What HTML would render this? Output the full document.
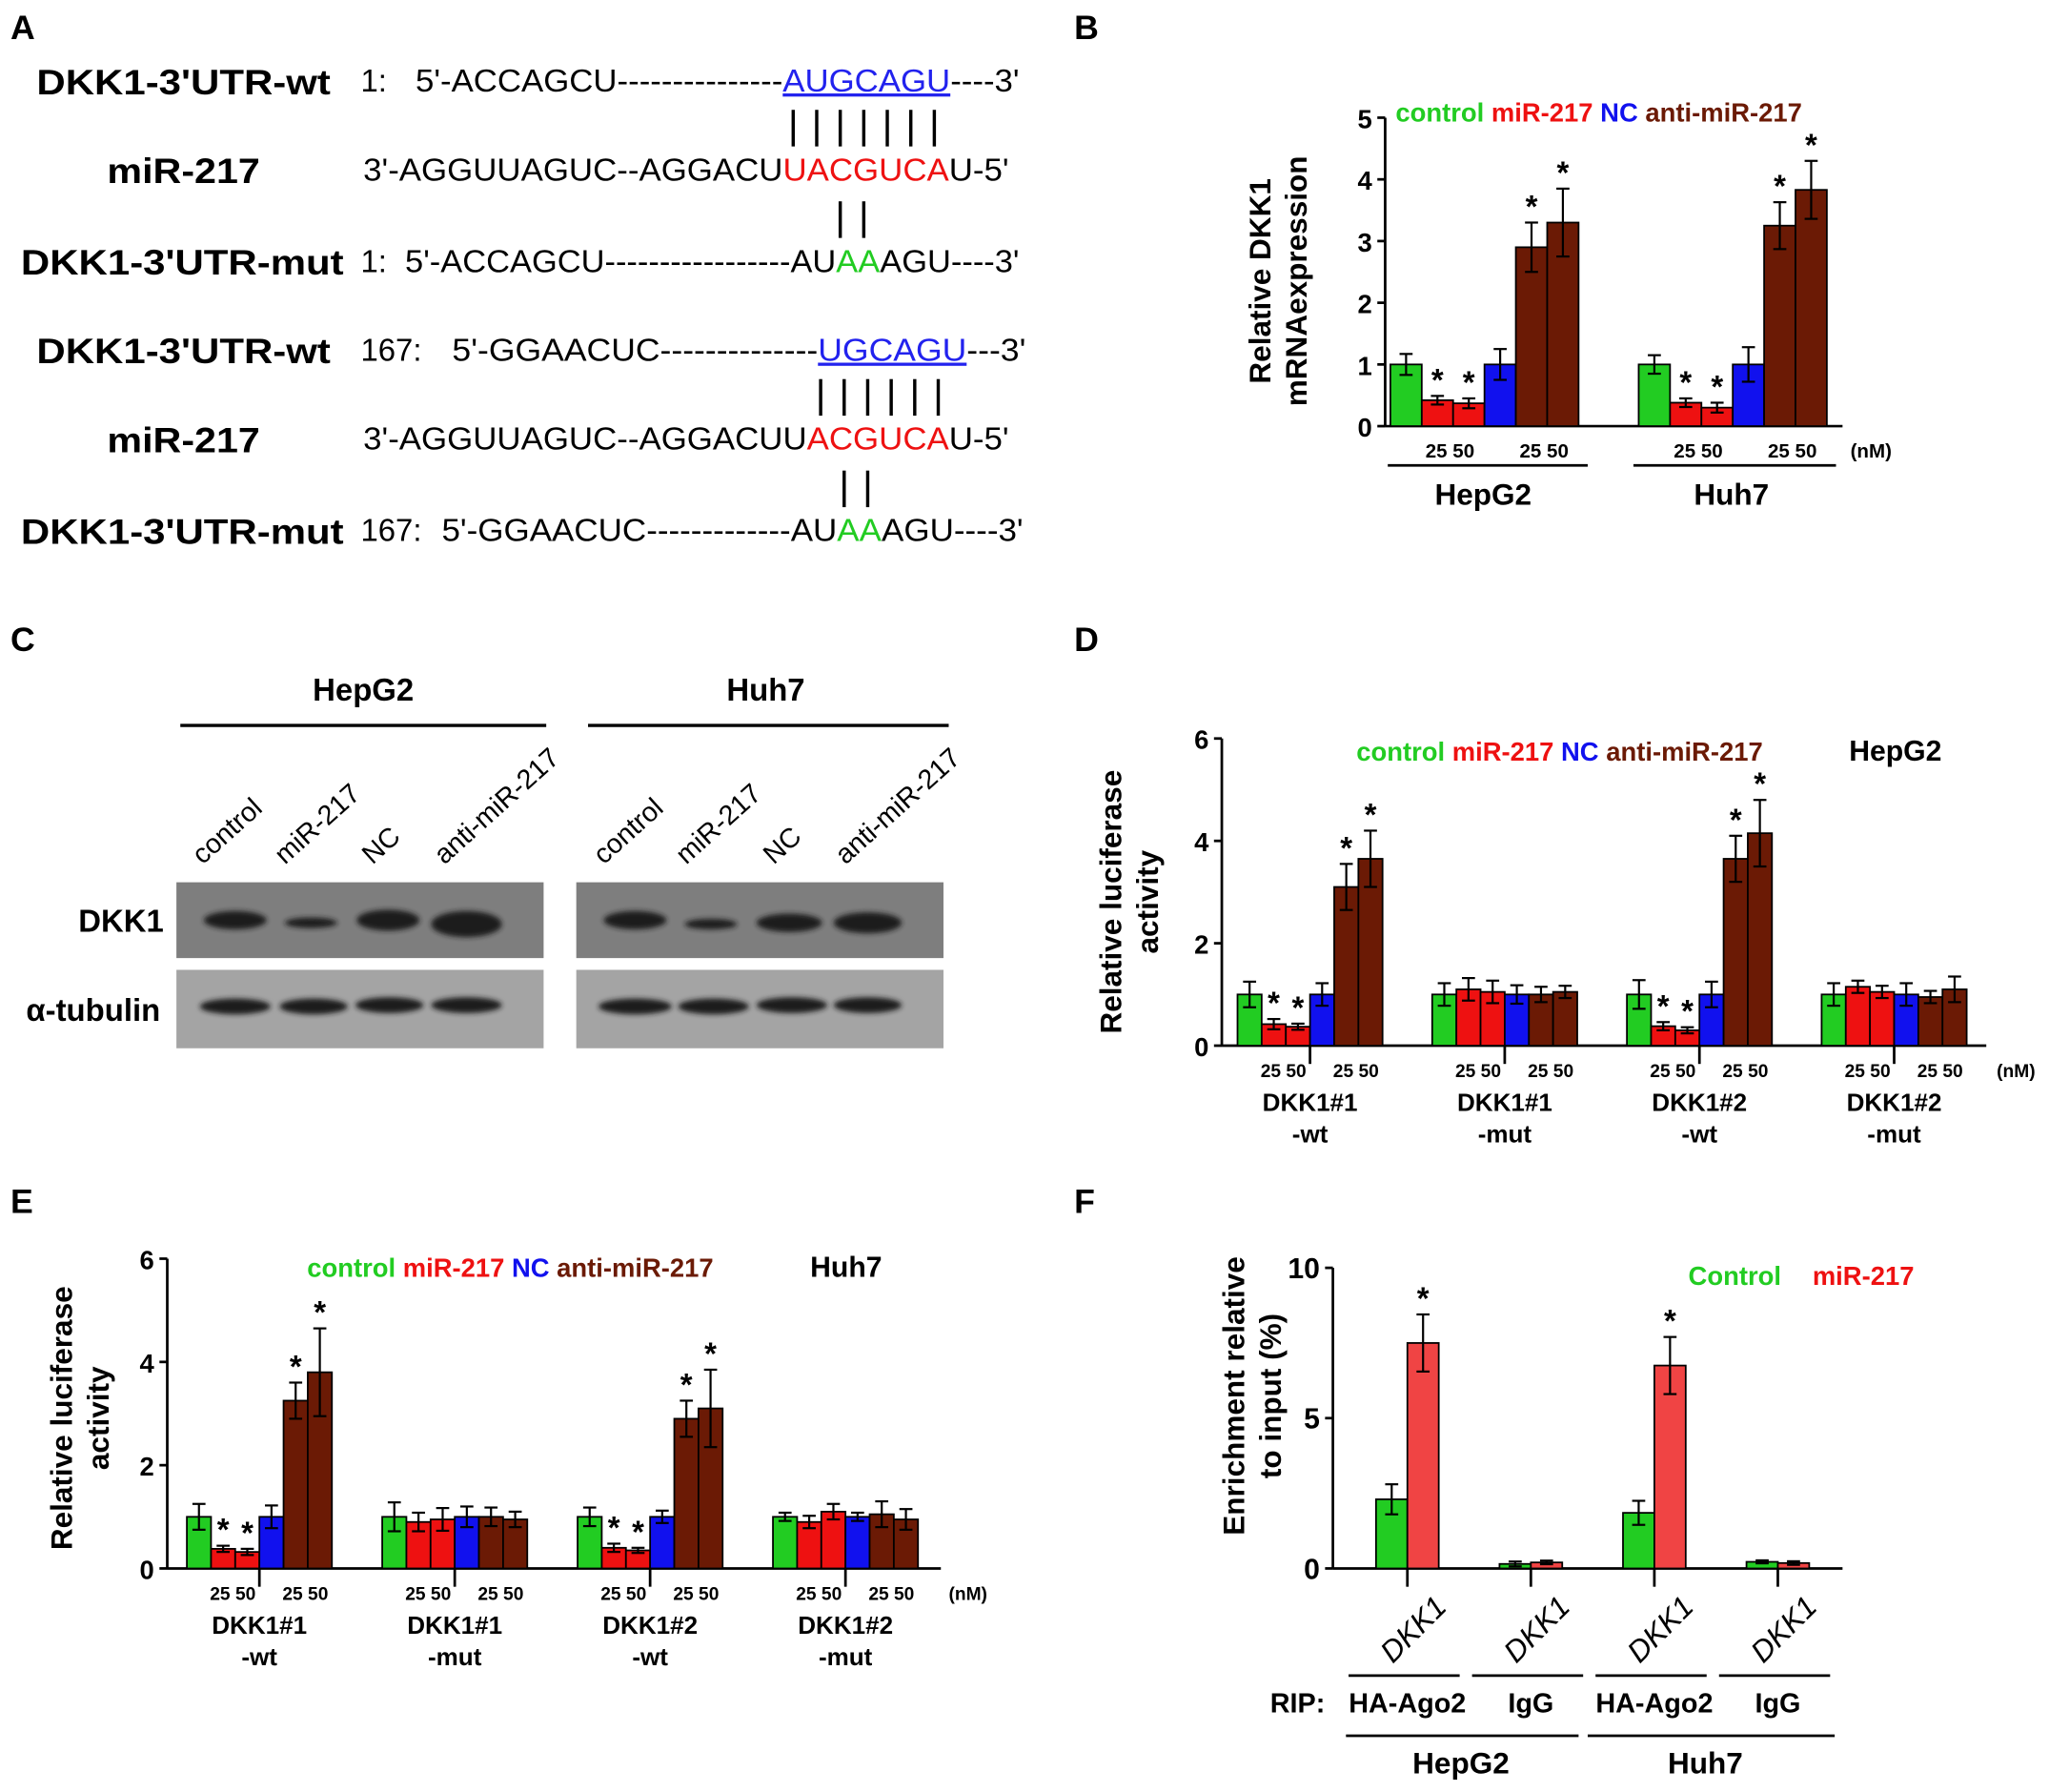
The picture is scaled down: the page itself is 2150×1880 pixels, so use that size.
<!DOCTYPE html>
<html><head><meta charset="utf-8"><style>
html,body{margin:0;padding:0;background:#fff;}
svg{display:block;font-family:"Liberation Sans",Arial,sans-serif;}
</style></head><body>
<svg id="fig" width="2150" height="1880" viewBox="0 0 1568 1371" xmlns="http://www.w3.org/2000/svg">
<g font-weight="bold" font-size="26">
<text x="8" y="30">A</text><text x="822" y="30">B</text><text x="8" y="498">C</text><text x="822" y="498">D</text><text x="8" y="928">E</text><text x="822" y="928">F</text>
</g>
<!-- Panel A -->
<g id="panelA" font-size="24">
<g font-weight="bold" font-size="27">
<text x="28" y="72" textLength="225" lengthAdjust="spacingAndGlyphs">DKK1-3'UTR-wt</text>
<text x="82" y="140" textLength="117" lengthAdjust="spacingAndGlyphs">miR-217</text>
<text x="16" y="210" textLength="247" lengthAdjust="spacingAndGlyphs">DKK1-3'UTR-mut</text>
<text x="28" y="278" textLength="225" lengthAdjust="spacingAndGlyphs">DKK1-3'UTR-wt</text>
<text x="82" y="346" textLength="117" lengthAdjust="spacingAndGlyphs">miR-217</text>
<text x="16" y="416" textLength="247" lengthAdjust="spacingAndGlyphs">DKK1-3'UTR-mut</text>
</g>
<text x="276" y="70">1:</text>
<text x="318" y="70" textLength="462" lengthAdjust="spacingAndGlyphs">5'-ACCAGCU---------------<tspan fill="#2222ee" text-decoration="underline">AUGCAGU</tspan>----3'</text>
<text x="278" y="138" textLength="494" lengthAdjust="spacingAndGlyphs">3'-AGGUUAGUC--AGGACU<tspan fill="#ee1111">UACGUCA</tspan>U-5'</text>
<text x="276" y="208">1:</text>
<text x="310" y="208" textLength="470" lengthAdjust="spacingAndGlyphs">5'-ACCAGCU-----------------AU<tspan fill="#22cc22">AA</tspan>AGU----3'</text>
<text x="276" y="276">167:</text>
<text x="346" y="276" textLength="439" lengthAdjust="spacingAndGlyphs">5'-GGAACUC--------------<tspan fill="#2222ee" text-decoration="underline">UGCAGU</tspan>---3'</text>
<text x="278" y="344" textLength="494" lengthAdjust="spacingAndGlyphs">3'-AGGUUAGUC--AGGACUU<tspan fill="#ee1111">ACGUCA</tspan>U-5'</text>
<text x="276" y="414">167:</text>
<text x="338" y="414" textLength="445" lengthAdjust="spacingAndGlyphs">5'-GGAACUC-------------AU<tspan fill="#22cc22">AA</tspan>AGU----3'</text>
<g stroke="#000" stroke-width="2.5">
<line x1="607" y1="84" x2="607" y2="112"/><line x1="625" y1="84" x2="625" y2="112"/><line x1="643" y1="84" x2="643" y2="112"/><line x1="661" y1="84" x2="661" y2="112"/><line x1="679" y1="84" x2="679" y2="112"/><line x1="697" y1="84" x2="697" y2="112"/><line x1="715" y1="84" x2="715" y2="112"/>
<line x1="643" y1="154" x2="643" y2="182"/><line x1="661" y1="154" x2="661" y2="182"/>
<line x1="628" y1="290" x2="628" y2="318"/><line x1="646" y1="290" x2="646" y2="318"/><line x1="664" y1="290" x2="664" y2="318"/><line x1="682" y1="290" x2="682" y2="318"/><line x1="700" y1="290" x2="700" y2="318"/><line x1="718" y1="290" x2="718" y2="318"/>
<line x1="646" y1="360" x2="646" y2="388"/><line x1="664" y1="360" x2="664" y2="388"/>
</g>
</g>
<!-- Panel C -->
<g id="panelC">
<defs><filter id="blur" x="-20%" y="-50%" width="140%" height="200%"><feGaussianBlur stdDeviation="2"/></filter></defs>
<g font-weight="bold" font-size="24"><text x="278" y="536" text-anchor="middle">HepG2</text><text x="586" y="536" text-anchor="middle">Huh7</text>
<text x="60" y="713">DKK1</text><text x="20" y="781">α-tubulin</text></g>
<line x1="138" y1="555" x2="418" y2="555" stroke="#000" stroke-width="2.5"/>
<line x1="450" y1="555" x2="726" y2="555" stroke="#000" stroke-width="2.5"/>
<g font-size="21">
<text transform="translate(155,662) rotate(-42)">control</text><text transform="translate(218,662) rotate(-42)">miR-217</text><text transform="translate(285,662) rotate(-42)">NC</text><text transform="translate(340,662) rotate(-42)">anti-miR-217</text>
<text transform="translate(462,662) rotate(-42)">control</text><text transform="translate(525,662) rotate(-42)">miR-217</text><text transform="translate(592,662) rotate(-42)">NC</text><text transform="translate(647,662) rotate(-42)">anti-miR-217</text>
</g>
<rect x="135" y="675" width="281" height="58" fill="#7e7e7e"/><rect x="441" y="675" width="281" height="58" fill="#7e7e7e"/>
<rect x="135" y="742" width="281" height="60" fill="#a4a4a4"/><rect x="441" y="742" width="281" height="60" fill="#a4a4a4"/>
<g fill="#1a1a1a" filter="url(#blur)">
<ellipse cx="180" cy="704" rx="24" ry="7"/><ellipse cx="238" cy="706" rx="20" ry="4"/><ellipse cx="297" cy="704" rx="24" ry="8"/><ellipse cx="357" cy="707" rx="27" ry="10"/>
<ellipse cx="486" cy="704" rx="24" ry="7"/><ellipse cx="544" cy="707" rx="20" ry="4"/><ellipse cx="604" cy="706" rx="25" ry="7"/><ellipse cx="664" cy="706" rx="26" ry="8"/>
<ellipse cx="180" cy="770" rx="27" ry="6"/><ellipse cx="240" cy="770" rx="26" ry="6"/><ellipse cx="298" cy="769" rx="26" ry="6"/><ellipse cx="357" cy="769" rx="27" ry="6"/>
<ellipse cx="486" cy="770" rx="28" ry="6"/><ellipse cx="546" cy="770" rx="27" ry="6"/><ellipse cx="606" cy="769" rx="27" ry="6"/><ellipse cx="664" cy="769" rx="26" ry="6"/>
</g>
</g>
<g id="charts"></g>
</svg>
<script>
// Panel B data
const bCats = ["HepG2","Huh7"];
const bVals = [[1,0.42,0.37,1,2.9,3.3],[1,0.38,0.3,1,3.25,3.83]];
const bErrs = [[0.17,0.07,0.08,0.25,0.4,0.55],[0.15,0.07,0.08,0.28,0.38,0.47]];
const bStars = [[0,1,1,0,1,1],[0,1,1,0,1,1]];
const bTicks = [0,1,2,3,4,5];
// Panel D data
const dCats = ["DKK1#1|-wt","DKK1#1|-mut","DKK1#2|-wt","DKK1#2|-mut"];
const dVals = [[1,0.42,0.37,1,3.1,3.65],[1,1.1,1.05,1,1,1.05],[1,0.38,0.3,1,3.65,4.15],[1,1.15,1.05,1,0.95,1.1]];
const dErrs = [[0.25,0.1,0.06,0.22,0.45,0.55],[0.22,0.22,0.22,0.18,0.15,0.12],[0.28,0.08,0.06,0.25,0.45,0.65],[0.22,0.12,0.12,0.22,0.12,0.25]];
const dStars = [[0,1,1,0,1,1],[0,0,0,0,0,0],[0,1,1,0,1,1],[0,0,0,0,0,0]];
const dTicks = [0,2,4,6];
// Panel E data
const eCats = ["DKK1#1|-wt","DKK1#1|-mut","DKK1#2|-wt","DKK1#2|-mut"];
const eVals = [[1,0.38,0.32,1,3.25,3.8],[1,0.9,0.95,1,1,0.95],[1,0.4,0.35,1,2.9,3.1],[1,0.9,1.1,1,1.05,0.95]];
const eErrs = [[0.25,0.06,0.06,0.22,0.35,0.85],[0.28,0.18,0.22,0.2,0.18,0.15],[0.18,0.08,0.05,0.12,0.35,0.75],[0.08,0.12,0.15,0.08,0.25,0.2]];
const eStars = [[0,1,1,0,1,1],[0,0,0,0,0,0],[0,1,1,0,1,1],[0,0,0,0,0,0]];
const eTicks = [0,2,4,6];
// Panel F data
const fCats = ["HA-Ago2","IgG","HA-Ago2","IgG"];
const fVals = [[2.3,7.5],[0.15,0.2],[1.85,6.75],[0.22,0.18]];
const fErrs = [[0.5,0.95],[0.08,0.06],[0.4,0.95],[0.05,0.06]];
const fStars = [[0,1],[0,0],[0,1],[0,0]];
const fTicks = [0,5,10];

const NS="http://www.w3.org/2000/svg";
const root=document.getElementById('charts');
const COLS=["#22cc22","#ee1111","#ee1111","#1111ee","#6b1a05","#6b1a05"];
function el(tag,attrs,parent,txt){const e=document.createElementNS(NS,tag);for(const k in attrs)e.setAttribute(k,attrs[k]);if(txt!==undefined)e.textContent=txt;(parent||root).appendChild(e);return e;}
function mkG(name){const g=el('g',{});return g;}

function barChart(o){
  const g=mkG(o.name);
  const y=v=>o.y0-(v/o.ymax)*(o.y0-o.ytop);
  el('line',{x1:o.ax,y1:o.ytop,x2:o.ax,y2:o.y0,stroke:'#000','stroke-width':2},g);
  el('line',{x1:o.ax,y1:o.y0,x2:o.axEnd,y2:o.y0,stroke:'#000','stroke-width':2},g);
  o.ticks.forEach(t=>{el('line',{x1:o.ax-6,y1:y(t),x2:o.ax,y2:y(t),stroke:'#000','stroke-width':2},g);
    const tl=el('text',{x:o.ax-10,y:y(t)+8,'text-anchor':'end','font-size':o.tickFs,'font-weight':'bold'},g,String(t));
    });
  o.vals.forEach((grp,gi)=>{
    const gx=o.gx0+gi*o.gstep;
    grp.forEach((v,i)=>{
      const x=gx+i*o.bw, col=o.cols[i];
      const top=y(v);
      const r=el('rect',{x:x,y:top,width:o.bw,height:o.y0-top,fill:col,stroke:'#000','stroke-width':1.3},g);
      
      const e=o.errs[gi][i], cx=x+o.bw/2;
      el('line',{x1:cx,y1:y(v+e),x2:cx,y2:y(Math.max(0,v-e)),stroke:'#000','stroke-width':1.6},g);
      el('line',{x1:cx-5,y1:y(v+e),x2:cx+5,y2:y(v+e),stroke:'#000','stroke-width':1.6},g);
      el('line',{x1:cx-5,y1:y(Math.max(0,v-e)),x2:cx+5,y2:y(Math.max(0,v-e)),stroke:'#000','stroke-width':1.6},g);
      if(o.stars[gi][i]){const s=el('text',{x:cx,y:y(v+e)-4,'text-anchor':'middle','font-size':24,'font-weight':'bold'},g,'*');}
    });
    if(o.midTick){const mx=gx+(o.vals[gi].length/2)*o.bw;el('line',{x1:mx,y1:o.y0,x2:mx,y2:o.y0+14,stroke:'#000','stroke-width':2},g);}
    if(o.nm){
      el('text',{x:gx+1.9*o.bw,y:o.y0+24,'text-anchor':'middle','font-size':o.nmFs,'font-weight':'bold'},g,'25 50');
      el('text',{x:gx+4.9*o.bw,y:o.y0+24,'text-anchor':'middle','font-size':o.nmFs,'font-weight':'bold'},g,'25 50');}
    if(o.catLabels){const parts=o.cats[gi].split('|');const cx=gx+3*o.bw;
      parts.forEach((p,pi)=>{const t=el('text',{x:cx,y:o.catY+pi*24,'text-anchor':'middle','font-size':o.catFs,'font-weight':'bold'},g,p);});}
  });
  if(o.nm){el('text',{x:o.nmX,y:o.y0+24,'font-size':o.nmFs,'font-weight':'bold'},g,'(nM)');}
  o.ytitle.forEach((l,li)=>{const t=el('text',{transform:`translate(${o.ytx+li*28},${o.yty}) rotate(-90)`,'text-anchor':'middle','font-size':o.ytFs,'font-weight':'bold'},g,l);});
  return {g,y};
}
function legend(g,x,y,fs){
  const t=el('text',{x:x,y:y,'font-size':fs,'font-weight':'bold'},g);
  
  [["control ","#22cc22"],["miR-217 ","#ee1111"],["NC ","#1111ee"],["anti-miR-217","#6b1a05"]].forEach(([s,c])=>{el('tspan',{fill:c},t,s);});
}

let B=barChart({name:'panel-b-chart',ax:1060,axEnd:1410,y0:326,ytop:90,ymax:5,ticks:bTicks,tickFs:20,vals:bVals,errs:bErrs,stars:bStars,cols:COLS,
  gx0:1064,gstep:190,bw:24,midTick:false,nm:true,nmFs:15,nmX:1416,cats:bCats,catLabels:false,ytitle:['Relative DKK1','mRNAexpression'],ytx:972,yty:215,ytFs:23});
legend(B.g,1068,93,20);
el('line',{x1:1062,y1:356,x2:1215,y2:356,stroke:'#000','stroke-width':2},B.g);
el('line',{x1:1250,y1:356,x2:1405,y2:356,stroke:'#000','stroke-width':2},B.g);
el('text',{x:1135,y:386,'text-anchor':'middle','font-size':23,'font-weight':'bold'},B.g,'HepG2');
el('text',{x:1325,y:386,'text-anchor':'middle','font-size':23,'font-weight':'bold'},B.g,'Huh7');

let D=barChart({name:'panel-d-chart',ax:935,axEnd:1520,y0:800,ytop:565,ymax:6,ticks:dTicks,tickFs:20,vals:dVals,errs:dErrs,stars:dStars,cols:COLS,
  gx0:947,gstep:149,bw:18.5,midTick:true,nm:true,nmFs:14,nmX:1528,cats:dCats,catLabels:true,catY:850,catFs:19,ytitle:['Relative luciferase','activity'],ytx:858,yty:690,ytFs:23});
legend(D.g,1038,582,20);
el('text',{x:1415,y:582,'font-size':22,'font-weight':'bold'},D.g,'HepG2');

let E=barChart({name:'panel-e-chart',ax:128,axEnd:720,y0:1200,ytop:963,ymax:6,ticks:eTicks,tickFs:20,vals:eVals,errs:eErrs,stars:eStars,cols:COLS,
  gx0:143,gstep:149.5,bw:18.5,midTick:true,nm:true,nmFs:14,nmX:726,cats:eCats,catLabels:true,catY:1250,catFs:19,ytitle:['Relative luciferase','activity'],ytx:55,yty:1085,ytFs:23});
legend(E.g,235,977,20);
el('text',{x:620,y:977,'font-size':22,'font-weight':'bold'},E.g,'Huh7');

let F=barChart({name:'panel-f-chart',ax:1020,axEnd:1410,y0:1200,ytop:970,ymax:10,ticks:fTicks,tickFs:22,vals:fVals,errs:fErrs,stars:fStars,cols:["#22cc22","#f04444"],
  gx0:1053,gstep:94.5,bw:24,midTick:true,nm:false,cats:fCats,catLabels:false,ytitle:['Enrichment relative','to input (%)'],ytx:952,yty:1068,ytFs:23});
el('text',{x:1292,y:983,'font-size':20,'font-weight':'bold',fill:'#22cc22'},F.g,'Control');
el('text',{x:1387,y:983,'font-size':20,'font-weight':'bold',fill:'#ee1111'},F.g,'miR-217');
fCats.forEach((c,i)=>{const cx=1077+i*94.5;
  const t=el('text',{transform:`translate(${cx+10},${1252}) rotate(-45)`,'text-anchor':'middle','font-size':23,'font-style':'italic'},F.g,'DKK1');
  
  el('line',{x1:cx-45,y1:1282,x2:cx+40,y2:1282,stroke:'#000','stroke-width':2},F.g);
  el('text',{x:cx,y:1310,'text-anchor':'middle','font-size':21,'font-weight':'bold'},F.g,c);
});
el('text',{x:972,y:1310,'font-size':21,'font-weight':'bold'},F.g,'RIP:');
el('line',{x1:1030,y1:1328,x2:1208,y2:1328,stroke:'#000','stroke-width':2},F.g);
el('line',{x1:1215,y1:1328,x2:1404,y2:1328,stroke:'#000','stroke-width':2},F.g);
el('text',{x:1118,y:1357,'text-anchor':'middle','font-size':23,'font-weight':'bold'},F.g,'HepG2');
el('text',{x:1305,y:1357,'text-anchor':'middle','font-size':23,'font-weight':'bold'},F.g,'Huh7');
</script>
</body></html>
